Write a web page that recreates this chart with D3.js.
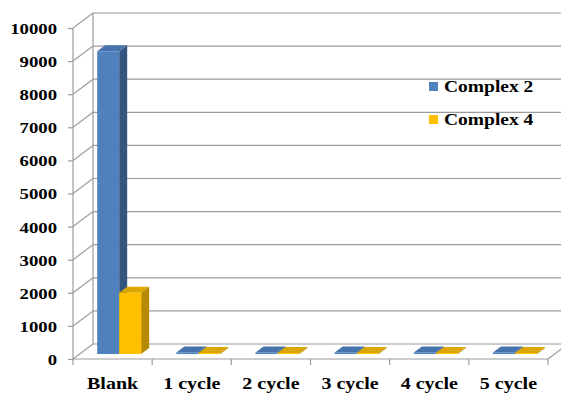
<!DOCTYPE html>
<html>
<head>
<meta charset="utf-8">
<script src="https://cdn.jsdelivr.net/npm/d3@7"></script>
<style>
  body { margin: 0; background: #fff; }
  text { font-family: "Liberation Serif", "Times New Roman", serif; font-weight: bold; fill: #000; }
</style>
</head>
<body>
<div id="chart"></div>
<script>
const WIDTH = 561;
const HEIGHT = 395;

const categories = ["Blank", "1 cycle", "2 cycle", "3 cycle", "4 cycle", "5 cycle"];
const seriesNames = ["Complex 2", "Complex 4"];
const complex2 = [9150, 50, 50, 50, 50, 50];
const complex4 = [1850, 30, 30, 30, 30, 30];
const yTicks = [0, 1000, 2000, 3000, 4000, 5000, 6000, 7000, 8000, 9000, 10000];

// 3d depth of the plot box
const DX = 20, DY = -15;
const Z0 = 0.33, Z1 = 0.73;
const STRETCH = 1.25;
const GRID = "#9c9c9c";

const colors = [
    {front: "#4F81BD", side: "#34557e", top: "#4773ad"},
    {front: "#FFC000", side: "#b58a00", top: "#dca600"}
];

function setup(){
    let svg = d3.select("#chart")
        .append("svg")
        .attr("width", WIDTH)
        .attr("height", HEIGHT);

    let x = d3.scaleBand().domain(categories).range([73, 548]);
    let xs = d3.scaleBand().domain(seriesNames).range([0, x.bandwidth()]).paddingOuter(0.8);
    let y = d3.scaleLinear().domain([0, 10000]).range([359, 28]);

    let proj = (px, v, z) => [px + z * DX, y(v) + z * DY];
    let x0 = x.range()[0], x1 = x.range()[1];

    let grid = svg.append("g")
        .style("stroke", GRID)
        .style("stroke-width", 1.2)
        .style("fill", "none");

    // back wall lines
    grid.selectAll(".back")
        .data(yTicks)
        .enter()
        .append("line")
        .attr("x1", x0 + DX)
        .attr("x2", x1 + DX)
        .attr("y1", d => y(d) + DY)
        .attr("y2", d => y(d) + DY);

    // side wall diagonals
    grid.selectAll(".side")
        .data(yTicks)
        .enter()
        .append("line")
        .attr("x1", x0)
        .attr("x2", x0 + DX)
        .attr("y1", d => y(d))
        .attr("y2", d => y(d) + DY);

    grid.append("line")
        .attr("x1", x0 + DX).attr("x2", x0 + DX)
        .attr("y1", y(10000) + DY).attr("y2", y(0) + DY);

    // floor front and right edges
    grid.append("line")
        .attr("x1", x0).attr("x2", x1)
        .attr("y1", y(0)).attr("y2", y(0));
    grid.append("line")
        .attr("x1", x1).attr("x2", x1 + DX)
        .attr("y1", y(0)).attr("y2", y(0) + DY);

    // y axis
    let yAxis = svg.append("g")
        .attr("transform", `translate(${x0},0)`)
        .call(d3.axisLeft(y).tickValues(yTicks).tickSize(5).tickFormat(d3.format("d")));
    yAxis.selectAll("path, line").style("stroke", GRID).style("stroke-width", 1.2);
    yAxis.select(".domain").attr("d", `M0,${y(10000)}V${y(0)}`);
    yAxis.selectAll("text")
        .attr("x", -16 / STRETCH)
        .attr("dy", "0.36em")
        .attr("transform", `scale(${STRETCH},1)`)
        .style("font-size", "15px")
        .style("font-family", "'Liberation Serif', serif")
        .style("font-weight", "bold")
        .style("fill", "#000");

    // x axis boundary ticks
    let bounds = categories.map(c => x(c)).concat([x1]);
    grid.selectAll(".xtick")
        .data(bounds)
        .enter()
        .append("line")
        .attr("x1", d => d).attr("x2", d => d)
        .attr("y1", y(0)).attr("y2", y(0) + 6);

    svg.append("g")
        .selectAll("text")
        .data(categories)
        .enter()
        .append("text")
        .attr("transform", d => `translate(${x(d) + x.bandwidth() / 2},389) scale(${STRETCH},1)`)
        .attr("text-anchor", "middle")
        .style("font-size", "16px")
        .text(d => d);

    // bars
    let bars = [];
    categories.forEach((c, i) => {
        [complex2, complex4].forEach((vals, s) => {
            bars.push({cat: c, s: s, v: vals[i]});
        });
    });

    let barG = svg.append("g");
    bars.forEach(b => {
        let left = x(b.cat) + xs(seriesNames[b.s]);
        let right = left + xs.bandwidth();
        let col = colors[b.s];
        let pt = (px, v, z) => proj(px, v, z).join(",");
        let g = barG.append("g");
        // right side
        g.append("polygon")
            .attr("points", [pt(right, 0, Z0), pt(right, 0, Z1), pt(right, b.v, Z1), pt(right, b.v, Z0)].join(" "))
            .style("fill", col.side);
        // top
        g.append("polygon")
            .attr("points", [pt(left, b.v, Z0), pt(right, b.v, Z0), pt(right, b.v, Z1), pt(left, b.v, Z1)].join(" "))
            .style("fill", col.top);
        // front
        g.append("polygon")
            .attr("points", [pt(left, 0, Z0), pt(right, 0, Z0), pt(right, b.v, Z0), pt(left, b.v, Z0)].join(" "))
            .style("fill", col.front);
    });

    // legend
    let legend = svg.append("g")
        .selectAll("g")
        .data(seriesNames)
        .enter()
        .append("g")
        .attr("transform", (d, i) => `translate(429,${82 + i * 33})`);
    legend.append("rect")
        .attr("width", 9)
        .attr("height", 9)
        .style("fill", (d, i) => colors[i].front);
    legend.append("text")
        .attr("transform", `translate(15,10) scale(1.22,1)`)
        .style("font-size", "16px")
        .text(d => d);
}

window.addEventListener("load", setup);
</script>
</body>
</html>
